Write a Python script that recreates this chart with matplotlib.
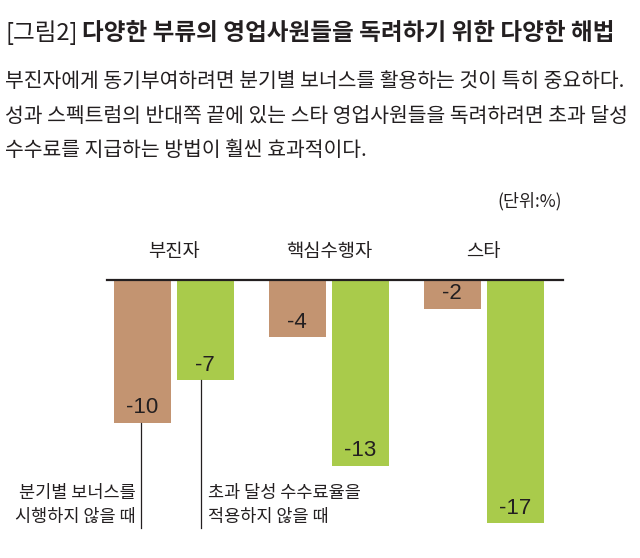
import matplotlib
matplotlib.use('Agg')
import matplotlib.pyplot as plt
import numpy as np

plt.rcParams['font.family'] = ['Noto Sans CJK KR', 'DejaVu Sans']

# data
groups = ['부진자', '핵심수행자', '스타']
no_bonus = [-10, -4, -2]      # 분기별 보너스를 시행하지 않을 때
no_commission = [-7, -13, -17]  # 초과 달성 수수료율을 적용하지 않을 때

title_tag = '[그림2]'
title_main = '다양한 부류의 영업사원들을 독려하기 위한 다양한 해법'
subtitle_lines = ['부진자에게 동기부여하려면 분기별 보너스를 활용하는 것이 특히 중요하다.',
                  '성과 스펙트럼의 반대쪽 끝에 있는 스타 영업사원들을 독려하려면 초과 달성',
                  '수수료를 지급하는 방법이 훨씬 효과적이다.']
unit_label = '(단위:%)'
note_bonus = '분기별 보너스를\n시행하지 않을 때'
note_commission = '초과 달성 수수료율을\n적용하지 않을 때'

brown = '#c39471'
green = '#a9cb4b'
dark = '#231f20'

W, H = 640, 558
fig = plt.figure(figsize=(W / 100, H / 100), dpi=100)

# axes: top edge = baseline (y=0), bottom = -18
ppu = 14.3
base_px = 280
ax = fig.add_axes([107 / W, 1 - (base_px + 18 * ppu) / H, (563 - 107) / W, 18 * ppu / H])
ax.set_xlim(-0.431, 2.511)
ax.set_ylim(-18, 0)
ax.axis('off')

x = np.arange(len(groups))
bw = 0.368
off = 0.203
ax.bar(x - off, no_bonus, bw, color=brown, zorder=2)
ax.bar(x + off, no_commission, bw, color=green, zorder=2)
ax.axhline(0, color=dark, lw=1.6, clip_on=False, zorder=3)

for xs, vals in [(x - off, no_bonus), (x + off, no_commission)]:
    for xi, v in zip(xs, vals):
        ax.text(xi, v + 1.05, '%d' % v, ha='center', va='center', fontsize=16,
                color=dark, family='Liberation Sans')

for xi, g in zip(x, groups):
    ax.text(xi, 1.96, g, ha='center', va='center', fontsize=13.5, color=dark, clip_on=False)

# annotation leader lines
y_end = -(528 - base_px) / ppu
ax.plot([x[0] - off - 0.01, x[0] - off - 0.01], [no_bonus[0], y_end], color=dark, lw=0.9, clip_on=False)
ax.plot([x[0] + off - 0.025, x[0] + off - 0.025], [no_commission[0], y_end], color=dark, lw=0.9, clip_on=False)
ax.text(x[0] - off - 0.045, -15.75, note_bonus, ha='right', va='center', fontsize=12.6,
        color=dark, linespacing=1.4, clip_on=False)
ax.text(x[0] + off + 0.02, -15.75, note_commission, ha='left', va='center', fontsize=12.6,
        color=dark, linespacing=1.4, clip_on=False)

# titles
t1 = fig.text(5 / W, 1 - 33 / H, title_tag, ha='left', va='center', fontsize=17,
              color=dark, fontweight='light')
fig.canvas.draw()
bb = t1.get_window_extent()
fig.text((bb.x1 + 5) / W, 1 - 33 / H, title_main, ha='left', va='center', fontsize=17,
         color=dark, fontweight='bold')

for i, line in enumerate(subtitle_lines):
    fig.text(5 / W, 1 - (82 + 34 * i) / H, line, ha='left', va='center', fontsize=14.7, color=dark)

fig.text(562 / W, 1 - 201 / H, unit_label, ha='right', va='center', fontsize=12.5, color=dark)

fig.savefig('out.png', dpi=100)
